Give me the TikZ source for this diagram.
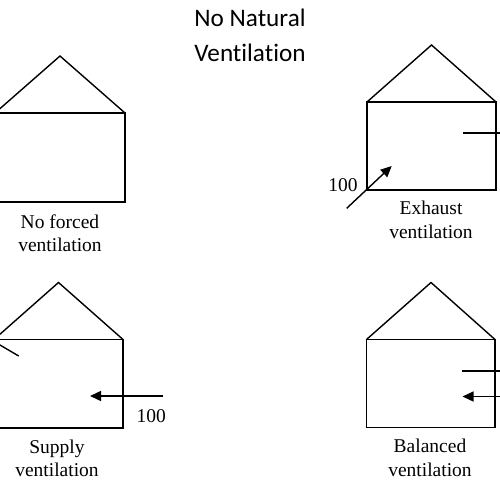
\documentclass[tikz,border=0pt]{standalone}
\usepackage{fontspec}
\setmainfont{Liberation Serif}
\newfontfamily\titlefont[Ligatures=NoCommon]{Carlito}
\usetikzlibrary{arrows.meta}
\begin{document}
\begin{tikzpicture}[x=1pt,y=-1pt,
  wall/.style={line width=1.4pt, line join=miter},
  flow/.style={line width=1.4pt},
  flowarrow/.style={line width=1.4pt,-{Triangle[length=11pt,width=10pt]}},
  caption/.style={font=\fontsize{19.5}{23.4}\selectfont, align=center, inner sep=0pt},
  qty/.style={font=\fontsize{19.5}{23.4}\selectfont, inner sep=0pt},
  titletext/.style={font=\titlefont\fontsize{25.2}{34.3}\selectfont, align=center, inner sep=0pt}]
\useasboundingbox (0,0) rectangle (500,500);

% title
\node[titletext] (title) at (250,35.3) {No Natural\\Ventilation};

% house 1: no forced ventilation
\draw[wall] (-5,113) rectangle (125,202);
\draw[wall] (-5,113) -- (60,56) -- (125,113);
\node[caption] (cap1) at (60,233) {No forced\\ventilation};

% house 2: exhaust ventilation
\draw[wall] (367,102) rectangle (496,190);
\draw[wall] (367,102) -- (431.5,45) -- (496,102);
\coordinate (ex1) at (463,133);
\coordinate (ex2) at (515,133);
\draw[flow] (ex1) -- (ex2);
\coordinate (in1) at (346.7,208.3);
\coordinate (in2) at (391.7,166);
\draw[flowarrow] (in1) -- (in2);
\node[qty] (q1) at (343,185) {100};
\node[caption] (cap2) at (431,220) {Exhaust\\ventilation};

% house 3: supply ventilation
\draw[wall] (-6,339.5) rectangle (123,428);
\draw[wall] (-6,339.5) -- (58.5,282.5) -- (123,339.5);
\coordinate (out1) at (-12,338);
\coordinate (out2) at (18.7,356);
\draw[flow] (out1) -- (out2);
\coordinate (sup1) at (163.3,396);
\coordinate (sup2) at (90,396);
\draw[flowarrow] (sup1) -- (sup2);
\node[qty] (q2) at (151.3,416) {100};
\node[caption] (cap3) at (57,458.4) {Supply\\ventilation};

% house 4: balanced ventilation
\draw[wall] (366.5,339.5) rectangle (495,427.5);
\draw[wall] (366.5,339.5) -- (431,282.5) -- (495,339.5);
\coordinate (bex1) at (462,371);
\coordinate (bex2) at (515,371);
\draw[flow] (bex1) -- (bex2);
\coordinate (bin1) at (515,396.5);
\coordinate (bin2) at (462.5,396.5);
\draw[flowarrow] (bin1) -- (bin2);
\node[caption] (cap4) at (430,458) {Balanced\\ventilation};
\end{tikzpicture}
\end{document}
